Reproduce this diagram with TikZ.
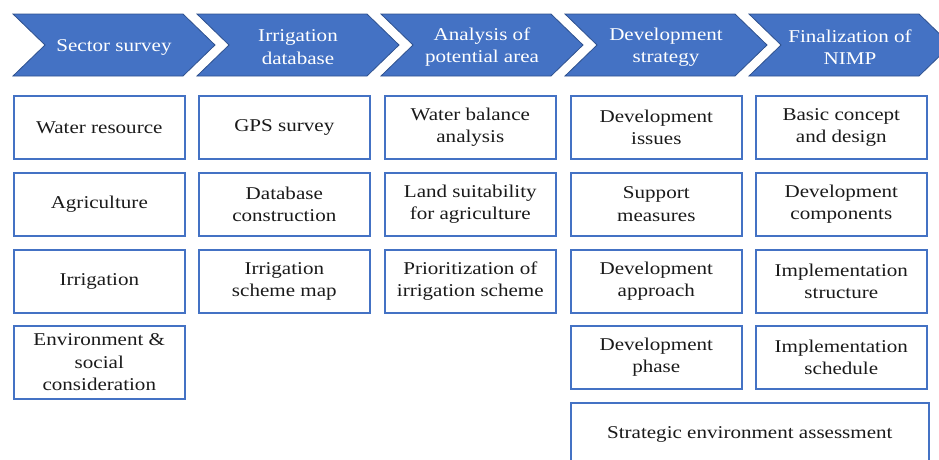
\documentclass[tikz,border=0pt]{standalone}
\usepackage{fontspec}
\setmainfont{Liberation Serif}[FakeStretch=1.17]
\definecolor{chevfill}{HTML}{4472C4}
\definecolor{chevline}{HTML}{2F528F}
\definecolor{boxline}{HTML}{4472C4}
\definecolor{txt}{HTML}{1A1A1A}
\begin{document}
\begin{tikzpicture}[x=1pt,y=-1pt,
  chev/.style={fill=chevfill,draw=chevline,line width=0.8pt},
  chevtext/.style={text=white,align=center,font=\fontsize{18}{22.5}\selectfont,inner sep=0pt},
  stepbox/.style={draw=boxline,line width=1.6pt,minimum width=171pt,minimum height=63pt,anchor=north west,inner sep=0pt,align=center,text=txt,font=\fontsize{18}{22.5}\selectfont}]
\useasboundingbox (0,0) rectangle (939,459);
\begin{scope}
\clip (0,0) rectangle (939,459);
% chevrons
\foreach \s/\n/\t in {13/c1/{Sector survey},197/c2/{Irrigation\\database},381/c3/{Analysis of\\potential area},565/c4/{Development\\strategy},749/c5/{Finalization of\\NIMP}}{
  \draw[chev] (\s,14) -- (\s+170,14) -- (\s+202,45) -- (\s+170,76) -- (\s,76) -- (\s+32,45) -- cycle;
  \node[chevtext] (\n) at (\s+101,47) {\t};
}
% column 1
\node[stepbox] (a1) at (13,95) {Water resource};
\node[stepbox] (a2) at (13,172) {Agriculture};
\node[stepbox] (a3) at (13,249) {Irrigation};
\node[stepbox,minimum height=73pt] (a4) at (13,325) {Environment \&\\social\\consideration};
% column 2
\node[stepbox] (b1) at (198,95) {GPS survey};
\node[stepbox] (b2) at (198,172) {Database\\construction};
\node[stepbox] (b3) at (198,249) {Irrigation\\scheme map};
% column 3
\node[stepbox] (d1) at (384,95) {Water balance\\analysis};
\node[stepbox] (d2) at (384,172) {Land suitability\\for agriculture};
\node[stepbox] (d3) at (384,249) {Prioritization of\\irrigation scheme};
% column 4
\node[stepbox] (e1) at (570,95) {Development\\issues};
\node[stepbox] (e2) at (570,172) {Support\\measures};
\node[stepbox] (e3) at (570,249) {Development\\approach};
\node[stepbox] (e4) at (570,325) {Development\\phase};
% column 5
\node[stepbox] (f1) at (755,95) {Basic concept\\and design};
\node[stepbox] (f2) at (755,172) {Development\\components};
\node[stepbox] (f3) at (755,249) {Implementation\\structure};
\node[stepbox] (f4) at (755,325) {Implementation\\schedule};
% bottom
\node[stepbox,minimum width=358pt,minimum height=63pt] (g1) at (570,402) {Strategic environment assessment};
\end{scope}
\end{tikzpicture}
\end{document}
